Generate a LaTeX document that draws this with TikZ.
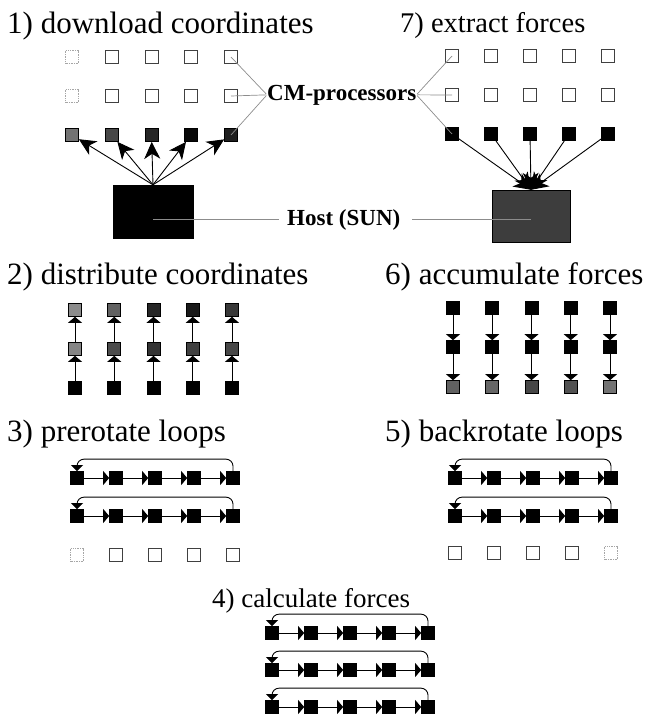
\documentclass[tikz,border=0pt]{standalone}
\usepackage{fontspec}
\setmainfont{Liberation Serif}
\usetikzlibrary{arrows.meta}
\tikzset{
  proc/.style={draw=black!75, line width=0.7pt, fill=white, minimum size=13pt, inner sep=0pt},
  faint/.style={proc, draw=black!35, densely dotted},
  full/.style={proc, draw=black, fill=black},
  tone/.style={proc, draw=black, fill=black!#1},
  title/.style={anchor=base west, inner sep=0pt, font=\fontsize{31}{31}\selectfont},
  tag/.style={anchor=base west, inner sep=0pt, font=\bfseries\fontsize{23}{23}\selectfont},
  leader/.style={draw=black!45, line width=0.7pt},
  fan/.style={line width=0.9pt, -{Stealth[length=17pt,width=16pt,inset=5pt]}},
  hop/.style={line width=0.9pt, -{Triangle[length=6pt,width=14pt]}},
  ring/.style={line width=0.9pt, rounded corners=7pt, -{Triangle[length=6pt,width=12pt]}}
}
\begin{document}
\begin{tikzpicture}[x=1pt,y=-1pt]
\useasboundingbox (0,0) rectangle (646,720);

% ---------- titles ----------
\node[title] (t1) at (7,33) {1) download coordinates};
\node[title, font=\fontsize{28.5}{28.5}\selectfont] (t7) at (400,32) {7) extract forces};
\node[title] (t2) at (7,284) {2) distribute coordinates};
\node[title] (t6) at (385,284) {6) accumulate forces};
\node[title] (t3) at (7,441) {3) prerotate loops};
\node[title] (t5) at (385,441) {5) backrotate loops};
\node[title, font=\fontsize{27}{27}\selectfont] (t4) at (212,607) {4) calculate forces};

% ---------- 1) download coordinates ----------
\foreach \i in {1,...,5} {
  \ifnum\i=1
    \node[faint] (a1\i) at ({72+39.75*(\i-1)},57) {};
    \node[faint] (a2\i) at ({72+39.75*(\i-1)},96) {};
  \else
    \node[proc] (a1\i) at ({72+39.75*(\i-1)},57) {};
    \node[proc] (a2\i) at ({72+39.75*(\i-1)},96) {};
  \fi
}
\foreach \s [count=\i] in {55,72,85,97,88}
  \node[tone=\s] (a3\i) at ({72+39.75*(\i-1)},135) {};
\node[draw, fill=black, minimum width=80pt, minimum height=53pt, inner sep=0pt] (h1) at (153,211.5) {};
\foreach \i in {1,...,5}
  \draw[fan] (h1.north) -- (a3\i);

% ---------- 7) extract forces ----------
\foreach \i in {1,...,5} {
  \node[proc] (g1\i) at ({452+39*(\i-1)},56) {};
  \node[proc] (g2\i) at ({452+39*(\i-1)},95) {};
  \node[full] (g3\i) at ({452+39*(\i-1)},134) {};
}
\node[draw, fill=black!76, minimum width=78pt, minimum height=52pt, inner sep=0pt] (h2) at (531,216) {};
\foreach \i in {1,...,5}
  \draw[fan] (g3\i) -- (h2.north);

% ---------- labels between the two top panels ----------
\node[tag] (cm) at (267,100) {CM-processors};
\node[tag] (hs) at (287,225) {Host (SUN)};
\foreach \r in {1,2,3} {
  \draw[leader, shorten <=1pt] (cm.west) -- (a\r5.center);
  \draw[leader, shorten <=1pt] (cm.east) -- (g\r1.center);
}
\draw[leader, shorten >=8pt] (h1.center |- hs.west) -- (hs.west);
\draw[leader, shorten <=12pt] (hs.east) -- (h2.center |- hs.east);

% ---------- 2) distribute coordinates ----------
\foreach \s [count=\i] in {45,62,85,90,78}
  \node[tone=\s] (b1\i) at ({75+39.25*(\i-1)},310) {};
\foreach \s [count=\i] in {48,70,80,75,72}
  \node[tone=\s] (b2\i) at ({75+39.25*(\i-1)},349) {};
\foreach \i in {1,...,5} {
  \node[full] (b3\i) at ({75+39.25*(\i-1)},388) {};
  \draw[hop] (b3\i) -- (b2\i);
  \draw[hop] (b2\i) -- (b1\i);
}

% ---------- 6) accumulate forces ----------
\foreach \i in {1,...,5} {
  \node[full] (f1\i) at ({453+39.25*(\i-1)},308) {};
  \node[full] (f2\i) at ({453+39.25*(\i-1)},347) {};
}
\foreach \s [count=\i] in {62,60,72,68,55}
  \node[tone=\s] (f3\i) at ({453+39.25*(\i-1)},387) {};
\foreach \i in {1,...,5} {
  \draw[hop] (f1\i) -- (f2\i);
  \draw[hop] (f2\i) -- (f3\i);
}

% ---------- rotating loops: 3), 5) and 4) ----------
\foreach \p/\xo/\rows in {c/77/{478,516}, e/455/{478,516}, d/272/{633,670,707}} {
  \foreach \y [count=\r] in \rows {
    \foreach \k in {0,...,4}
      \node[full] (\p\r\k) at ({\xo+39*\k},\y) {};
    \foreach \k in {0,...,3} {
      \pgfmathtruncatemacro\n{\k+1}
      \draw[hop] (\p\r\k) -- (\p\r\n);
    }
    \draw[ring] (\p\r4.north) -- ++(0,-12) -| (\p\r0.north);
  }
}

% idle processors below the loops
\foreach \k in {0,...,4} {
  \ifnum\k=0
    \node[faint] (c3\k) at ({77+39*\k},555) {};
  \else
    \node[proc] (c3\k) at ({77+39*\k},555) {};
  \fi
  \ifnum\k=4
    \node[faint] (e3\k) at ({455+39*\k},553) {};
  \else
    \node[proc] (e3\k) at ({455+39*\k},553) {};
  \fi
}
\end{tikzpicture}
\end{document}
